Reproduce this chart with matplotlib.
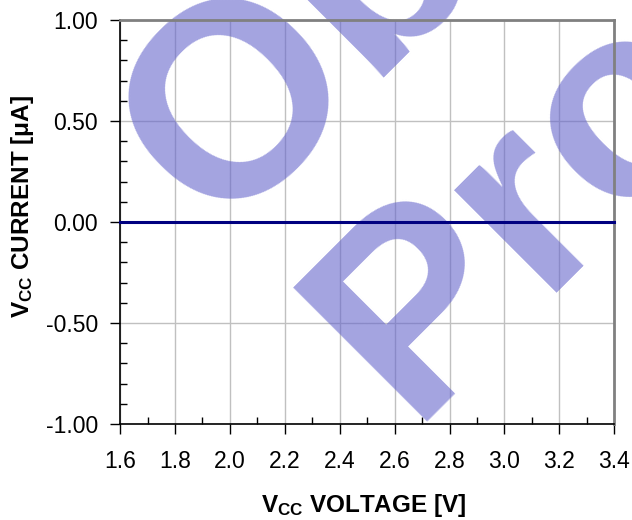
import matplotlib
matplotlib.use("Agg")
import matplotlib.pyplot as plt
from matplotlib.ticker import MultipleLocator, FormatStrFormatter

plt.rcParams['font.family'] = ['Liberation Sans', 'DejaVu Sans']
plt.rcParams['mathtext.fontset'] = 'custom'
plt.rcParams['mathtext.rm'] = 'Liberation Sans'
plt.rcParams['mathtext.bf'] = 'Liberation Sans:bold'
plt.rcParams['mathtext.it'] = 'Liberation Sans:italic'

# data
vcc_voltage = [1.6, 1.8, 2.0, 2.2, 2.4, 2.6, 2.8, 3.0, 3.2, 3.4]
vcc_current = [0.0, 0.0, 0.0, 0.0, 0.0, 0.0, 0.0, 0.0, 0.0, 0.0]

fig = plt.figure(figsize=(6.32, 5.2), dpi=100)
ax = fig.add_axes([0.190, 0.1846, 0.782, 0.777])

ax.plot(vcc_voltage, vcc_current, color='#000080', lw=2.2, zorder=3, clip_on=False)

ax.set_xlim(1.6, 3.4)
ax.set_ylim(-1.0, 1.0)
ax.xaxis.set_major_locator(MultipleLocator(0.2))
ax.xaxis.set_minor_locator(MultipleLocator(0.1))
ax.yaxis.set_major_locator(MultipleLocator(0.5))
ax.yaxis.set_minor_locator(MultipleLocator(0.1))
ax.xaxis.set_major_formatter(FormatStrFormatter('%.1f'))
ax.yaxis.set_major_formatter(FormatStrFormatter('%.2f'))

ax.grid(True, which='major', color='#c0c0c0', lw=1.0)
ax.set_axisbelow(True)

ax.tick_params(which='major', direction='out', length=7, width=1, labelsize=16.5)
ax.tick_params(which='minor', direction='in', length=5, width=1)
ax.tick_params(axis='x', which='major', pad=12)
ax.tick_params(axis='y', which='major', pad=9)

for s in ['left', 'bottom']:
    ax.spines[s].set_color('black')
    ax.spines[s].set_linewidth(1.2)
for s in ['top', 'right']:
    ax.spines[s].set_color('#808080')
    ax.spines[s].set_linewidth(2.0)

fig.text(0.575, 0.0154, r'$\mathbf{V_{CC}}$ VOLTAGE [V]', ha='center', va='baseline',
         fontsize=17.5, fontweight='bold')
fig.text(0.035, 0.602, r'$\mathbf{V_{CC}}$ CURRENT [$\mathbf{\mu}$A]', ha='center', va='center',
         fontsize=17.5, fontweight='bold', rotation=90)

# watermark
wm = dict(fontsize=198, fontweight='bold', color='#6666cc', alpha=0.6,
          rotation=45, rotation_mode='anchor', ha='left', va='baseline',
          transform=None, zorder=2, clip_on=False)
ax.text(218, 520 - 233, 'Obsolete', **wm)
ax.text(410, 520 - 422, 'Product', **wm)

fig.savefig('out.png', dpi=100)
